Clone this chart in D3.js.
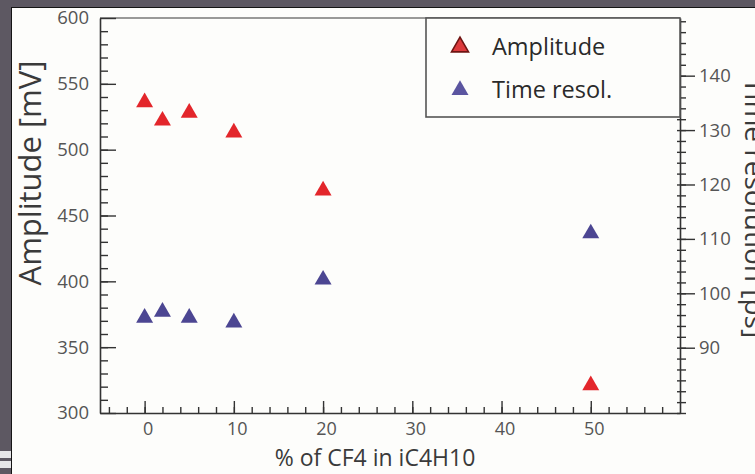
<!DOCTYPE html>
<html>
<head>
<meta charset="utf-8">
<script src="https://cdn.jsdelivr.net/npm/d3@7"></script>
<style>
	body { margin: 0; background: #5d5862; }
	svg { display: block; }
	.tick text { font-family: 'Open Sans', sans-serif; fill: #555; }
</style>
</head>
<body>
<svg id="chart" width="755" height="474"></svg>
<script>
// values
const pctCF4 = [0, 2, 5, 10, 20, 50]
const amplitude = [536, 522, 528, 513, 469, 321]
const timeResol = [95.5, 96.6, 95.5, 94.6, 102.5, 111]

const pctTicks = [0, 10, 20, 30, 40, 50]
const amplitudeTicks = [300, 350, 400, 450, 500, 550, 600]
const timeTicks = [90, 100, 110, 120, 130, 140]

const legendLabels = ['Amplitude', 'Time resol.']

const W = 755, H = 474
const plot = { left: 100, top: 18, right: 680, bottom: 413 }
const FONT = "'Open Sans', sans-serif"
const RED = '#e3262b', BLUE = '#4c4692'

const svg = d3.select('#chart')

/*
 * slide frame
 */
svg.append('rect').attr('width', W).attr('height', H).attr('fill', '#5d5862')
svg.append('rect').attr('x', 11).attr('y', 7).attr('width', W).attr('height', H).attr('fill', '#151515')
svg.append('rect').attr('x', 12).attr('y', 8).attr('width', W).attr('height', H).attr('fill', '#fdfdfb')
svg.append('rect').attr('x', 0).attr('y', 451).attr('width', 11).attr('height', 7).attr('fill', '#e6e6e8')
svg.append('rect').attr('x', 0).attr('y', 461).attr('width', 11).attr('height', 7).attr('fill', '#e6e6e8')

/*
 * scales
 */
const x = d3.scaleLinear().domain([-5, 60]).range([plot.left, plot.right])
const yAmp = d3.scaleLinear().domain([300, 600]).range([plot.bottom, plot.top])
const yTime = d3.scaleLinear().domain([78, 150.6]).range([plot.bottom, plot.top])

function styleAxis(g, size) {
	g.select('.domain').attr('stroke', '#333').attr('stroke-width', 1.6)
	g.selectAll('.tick line').attr('stroke', '#333').attr('stroke-width', 1.4)
	g.selectAll('.tick text').attr('font-size', size)
}

// top frame line
svg.append('line')
	.attr('x1', plot.left).attr('x2', plot.right)
	.attr('y1', plot.top).attr('y2', plot.top)
	.attr('stroke', '#777').attr('stroke-width', 1.6)

/* ===== X AXIS ===== */
const xMinor = svg.append('g')
	.attr('transform', `translate(0,${plot.bottom})`)
	.call(d3.axisBottom(x).tickValues(d3.range(-4, 60, 2)).tickSize(-6).tickFormat(''))
xMinor.select('.domain').remove()
styleAxis(xMinor, 0)

const xAxis = svg.append('g')
	.attr('transform', `translate(0,${plot.bottom})`)
	.call(d3.axisBottom(x).tickValues(pctTicks).tickSize(-12).tickSizeOuter(0).tickPadding(9))
styleAxis(xAxis, 18)
xAxis.selectAll('.tick text').attr('dx', 3)

/* ===== LEFT AXIS ===== */
const yMinor = svg.append('g')
	.attr('transform', `translate(${plot.left},0)`)
	.call(d3.axisLeft(yAmp).tickValues(d3.range(310, 600, 10)).tickSize(-8).tickFormat(''))
yMinor.select('.domain').remove()
styleAxis(yMinor, 0)

const yAxis = svg.append('g')
	.attr('transform', `translate(${plot.left},0)`)
	.call(d3.axisLeft(yAmp).tickValues(amplitudeTicks).tickSize(-16).tickSizeOuter(0).tickPadding(11))
styleAxis(yAxis, 18.5)

/* ===== RIGHT AXIS ===== */
const tMinor = svg.append('g')
	.attr('transform', `translate(${plot.right},0)`)
	.call(d3.axisRight(yTime).tickValues(d3.range(78, 151, 2)).tickSize(6).tickFormat(''))
tMinor.select('.domain').remove()
tMinor.selectAll('.tick line').attr('x1', -3)
styleAxis(tMinor, 0)

const tAxis = svg.append('g')
	.attr('transform', `translate(${plot.right},0)`)
	.call(d3.axisRight(yTime).tickValues(timeTicks).tickSize(15).tickSizeOuter(0).tickPadding(4))
styleAxis(tAxis, 18.5)

/*
 * axis titles
 */
svg.append('text')
	.attr('transform', `translate(41,173) rotate(-90)`)
	.attr('text-anchor', 'middle')
	.attr('font-family', FONT).attr('font-size', 31).attr('fill', '#3a3a3a')
	.text('Amplitude [mV]')

// cut by the right edge in the original slide too
svg.append('text')
	.attr('transform', `translate(745,208) rotate(90)`)
	.attr('text-anchor', 'middle')
	.attr('font-family', FONT).attr('font-size', 28).attr('fill', '#3a3a3a')
	.text('Time resolution [ps]')

svg.append('text')
	.attr('x', 375).attr('y', 466)
	.attr('text-anchor', 'middle')
	.attr('font-family', FONT).attr('font-size', 23).attr('fill', '#3a3a3a')
	.text('% of CF4 in iC4H10')

/*
 * points
 */
const tri = d3.symbol().type(d3.symbolTriangle).size(125)

svg.append('g').selectAll('path')
	.data(pctCF4)
	.join('path')
	.attr('d', tri)
	.attr('transform', (d, i) => `translate(${x(d)},${yAmp(amplitude[i])})`)
	.attr('fill', RED)

svg.append('g').selectAll('path')
	.data(pctCF4)
	.join('path')
	.attr('d', tri)
	.attr('transform', (d, i) => `translate(${x(d)},${yTime(timeResol[i])})`)
	.attr('fill', BLUE)

/*
 * legend
 */
const legend = svg.append('g')
legend.append('rect')
	.attr('x', 426).attr('y', plot.top)
	.attr('width', plot.right - 426).attr('height', 99)
	.attr('fill', '#fdfdfb').attr('stroke', '#555').attr('stroke-width', 1.6)

legendLabels.forEach((label, i) => {
	const cy = 47 + i * 43
	legend.append('path')
		.attr('d', tri)
		.attr('transform', `translate(460,${cy})`)
		.attr('fill', i === 0 ? '#dc3a3c' : '#5b55a0')
		.attr('stroke', i === 0 ? '#6e1412' : 'none')
		.attr('stroke-width', 1.6)
	legend.append('text')
		.attr('x', 492).attr('y', cy)
		.attr('dy', '0.35em')
		.attr('font-family', FONT).attr('font-size', 23.5).attr('fill', '#2a2a2a')
		.text(label)
})
</script>
</body>
</html>
